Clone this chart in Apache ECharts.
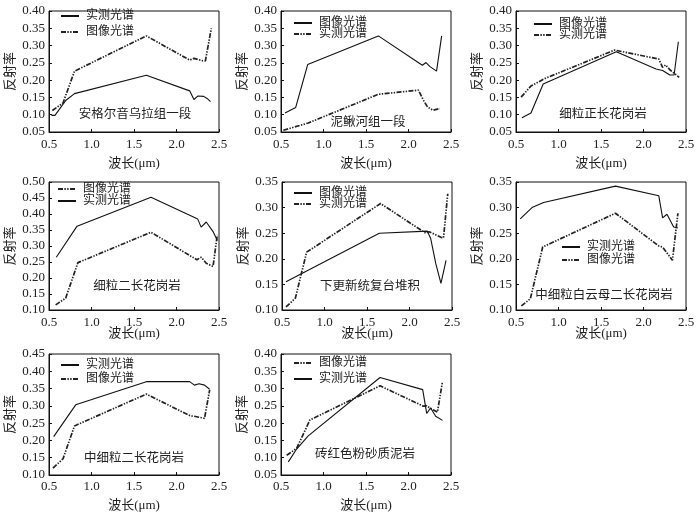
<!DOCTYPE html>
<html><head><meta charset="utf-8">
<script src="https://cdn.jsdelivr.net/npm/echarts@6/dist/echarts.min.js"></script>
<style>
html,body{margin:0;padding:0;background:#fff;width:699px;height:513px;overflow:hidden}
.p{position:absolute;width:233px;height:173px}
</style>
</head><body>
<div id="c0" class="p" style="left:0px;top:0px"></div>
<div id="c1" class="p" style="left:233px;top:0px"></div>
<div id="c2" class="p" style="left:466px;top:0px"></div>
<div id="c3" class="p" style="left:0px;top:170px"></div>
<div id="c4" class="p" style="left:233px;top:170px"></div>
<div id="c5" class="p" style="left:466px;top:170px"></div>
<div id="c6" class="p" style="left:0px;top:340px"></div>
<div id="c7" class="p" style="left:233px;top:340px"></div>
<script>
// ---------- data ----------
const panelNames = ['安格尔音乌拉组一段','泥鳅河组一段','细粒正长花岗岩','细粒二长花岗岩','下更新统复台堆积','中细粒白云母二长花岗岩','中细粒二长花岗岩','砖红色粉砂质泥岩'];
const MEAS = '实测光谱', IMG = '图像光谱';
const xRange = [0.5, 2.5];
const xStep = 0.5;
const yMins = [0.05,0.05,0.05,0.10,0.10,0.10,0.10,0.05];
const yMaxs = [0.40,0.40,0.40,0.50,0.35,0.35,0.45,0.40];
const yStep = 0.05;

const meas1 = [[0.53,0.098],[0.57,0.098],[0.70,0.142],[0.80,0.161],[1.645,0.214],[2.155,0.169],[2.205,0.144],[2.25,0.154],[2.32,0.153],[2.36,0.147],[2.40,0.138]];
const img1  = [[0.54,0.112],[0.665,0.134],[0.80,0.226],[1.645,0.328],[2.155,0.258],[2.205,0.263],[2.31,0.256],[2.34,0.256],[2.41,0.350]];

const img2  = [[0.547,0.105],[0.673,0.121],[0.814,0.245],[1.645,0.328],[2.163,0.243],[2.206,0.251],[2.253,0.239],[2.33,0.226],[2.39,0.328]];
const meas2 = [[0.527,0.055],[0.82,0.076],[1.645,0.159],[2.116,0.171],[2.175,0.142],[2.225,0.122],[2.29,0.113],[2.37,0.118]];

const img3  = [[0.57,0.091],[0.676,0.105],[0.82,0.189],[1.68,0.282],[2.147,0.232],[2.225,0.228],[2.31,0.215],[2.36,0.215],[2.41,0.311]];
const meas3 = [[0.56,0.151],[0.676,0.183],[0.833,0.204],[1.66,0.287],[2.18,0.261],[2.225,0.237],[2.26,0.244],[2.31,0.230],[2.42,0.208]];

const img4  = [[0.578,0.116],[0.696,0.137],[0.84,0.248],[1.70,0.343],[2.24,0.257],[2.29,0.265],[2.35,0.246],[2.43,0.236],[2.48,0.335]];
const meas4 = [[0.586,0.265],[0.83,0.362],[1.70,0.452],[2.25,0.384],[2.29,0.359],[2.35,0.375],[2.43,0.345],[2.48,0.317]];

const img5  = [[0.547,0.155],[1.645,0.250],[2.21,0.254],[2.25,0.239],[2.31,0.190],[2.37,0.152],[2.43,0.197]];
const meas5 = [[0.547,0.106],[0.657,0.123],[0.79,0.213],[1.66,0.308],[2.19,0.250],[2.23,0.253],[2.37,0.242],[2.40,0.241],[2.45,0.327]];

const meas6 = [[0.55,0.278],[0.688,0.300],[0.825,0.310],[1.67,0.342],[2.18,0.323],[2.225,0.280],[2.276,0.287],[2.355,0.262],[2.405,0.260]];
const img6  = [[0.563,0.108],[0.669,0.122],[0.814,0.223],[1.67,0.289],[2.18,0.225],[2.225,0.223],[2.34,0.197],[2.405,0.289]];

const meas7 = [[0.555,0.211],[0.814,0.303],[1.645,0.370],[2.155,0.370],[2.21,0.360],[2.265,0.364],[2.33,0.360],[2.39,0.348]];
const img7  = [[0.547,0.120],[0.665,0.147],[0.80,0.242],[1.645,0.334],[2.163,0.271],[2.206,0.270],[2.33,0.264],[2.39,0.346]];

const img8  = [[0.567,0.107],[0.684,0.127],[0.84,0.209],[1.665,0.308],[2.175,0.249],[2.214,0.250],[2.27,0.241],[2.34,0.232],[2.40,0.320]];
const meas8 = [[0.586,0.088],[0.684,0.125],[0.82,0.163],[1.665,0.332],[2.167,0.297],[2.214,0.228],[2.26,0.244],[2.32,0.220],[2.40,0.208]];

// per panel: series in legend order, with which one is drawn solid
const panelSeries = [
  [[MEAS, meas1, 'solid'], [IMG, img1, 'dash']],
  [[IMG, img2, 'solid'], [MEAS, meas2, 'dash']],
  [[IMG, img3, 'solid'], [MEAS, meas3, 'dash']],
  [[IMG, img4, 'dash'], [MEAS, meas4, 'solid']],
  [[IMG, img5, 'solid'], [MEAS, meas5, 'dash']],
  [[MEAS, meas6, 'solid'], [IMG, img6, 'dash']],
  [[MEAS, meas7, 'solid'], [IMG, img7, 'dash']],
  [[IMG, img8, 'dash'], [MEAS, meas8, 'solid']]
];

// ---------- layout / style ----------
const rows = [
  {gt:11, gh:121, xm:6, ng:25},
  {gt:12, gh:128, xm:6, ng:17},
  {gt:14, gh:121, xm:5, ng:24}
];
const layout = [
  {gl:49, lgL:60, lgT:10, lgG:4, tx:135, ty:113},
  {gl:48, lgL:60, lgT:17, lgG:-1, tx:135, ty:121},
  {gl:50, lgL:67, lgT:18, lgG:-1, tx:137, ty:113},
  {gl:49, lgL:57, lgT:13, lgG:0, tx:137, ty:115},
  {gl:49, lgL:60, lgT:17, lgG:-1, tx:137, ty:115},
  {gl:50, lgL:95, lgT:71, lgG:1, tx:138, ty:124},
  {gl:49, lgL:60, lgT:19, lgG:2, tx:134, ty:117},
  {gl:48, lgL:60, lgT:17, lgG:4, tx:132, ty:113}
];
const FONT = "'Liberation Serif','Noto Sans CJK SC',serif";
const styles = {
  solid: {color:'#111', width:1.1, type:'solid'},
  dash:  {color:'#222', width:1.7, type:[5,1.4,1.4,1.4,1.4,1.4]}
};

for (let i = 0; i < 8; i++) {
  const row = rows[Math.floor(i / 3)];
  const L = layout[i];
  const chart = echarts.init(document.getElementById('c' + i), null, {renderer:'canvas'});
  const series = panelSeries[i].map(s => ({
    name: s[0], type: 'line', data: s[1], symbol: 'none', showSymbol: false,
    lineStyle: Object.assign({}, styles[s[2]]), itemStyle: {color: styles[s[2]].color},
    silent: true, animation: false
  }));
  chart.setOption({
    animation: false,
    grid: {left: L.gl, top: row.gt, width: 170, height: row.gh, containLabel: false, outerBoundsMode: 'none',
           show: true, borderColor: '#111', borderWidth: 1},
    legend: {
      orient: 'vertical', left: L.lgL, top: L.lgT, padding: 0, itemGap: L.lgG,
      itemWidth: 18, itemHeight: 12, selectedMode: false,
      data: panelSeries[i].map(s => s[0]),
      itemStyle: {opacity: 0, color: 'rgba(0,0,0,0)', borderColor: 'rgba(0,0,0,0)', borderWidth: 0},
      textStyle: {fontFamily: FONT, fontSize: 12, color: '#222', padding: [0,0,0,2]}
    },
    xAxis: {
      type: 'value', min: xRange[0], max: xRange[1], interval: xStep,
      name: '波长(μm)', nameLocation: 'middle', nameGap: row.ng, nameMoveOverlap: false,
      nameTextStyle: {fontFamily: FONT, fontSize: 13, color: '#222'},
      axisLine: {show: true, lineStyle: {color: '#111', width: 1}},
      axisTick: {show: true, inside: true, length: 3, lineStyle: {color: '#111'}},
      axisLabel: {fontFamily: FONT, fontSize: 13, color: '#222', margin: row.xm,
                  showMinLabel: true, showMaxLabel: true, hideOverlap: false,
                  formatter: v => v.toFixed(1)},
      splitLine: {show: false}
    },
    yAxis: {
      type: 'value', min: yMins[i], max: yMaxs[i], interval: yStep,
      name: '反射率', nameLocation: 'middle', nameGap: 32, nameRotate: 90, nameMoveOverlap: false,
      nameTextStyle: {fontFamily: FONT, fontSize: 13, color: '#222'},
      axisLine: {show: true, lineStyle: {color: '#111', width: 1}},
      axisTick: {show: true, inside: true, length: 3, lineStyle: {color: '#111'}},
      axisLabel: {fontFamily: FONT, fontSize: 13, color: '#222', margin: 4,
                  showMinLabel: true, showMaxLabel: true, hideOverlap: false,
                  formatter: v => v.toFixed(2)},
      splitLine: {show: false}
    },
    graphic: [{
      type: 'text', x: L.tx, y: L.ty, silent: true,
      style: {text: panelNames[i], fill: '#222', font: "12.5px 'Noto Sans CJK SC'", align: 'center', verticalAlign: 'middle'}
    }],
    series: series
  });
}
</script>
</body></html>
